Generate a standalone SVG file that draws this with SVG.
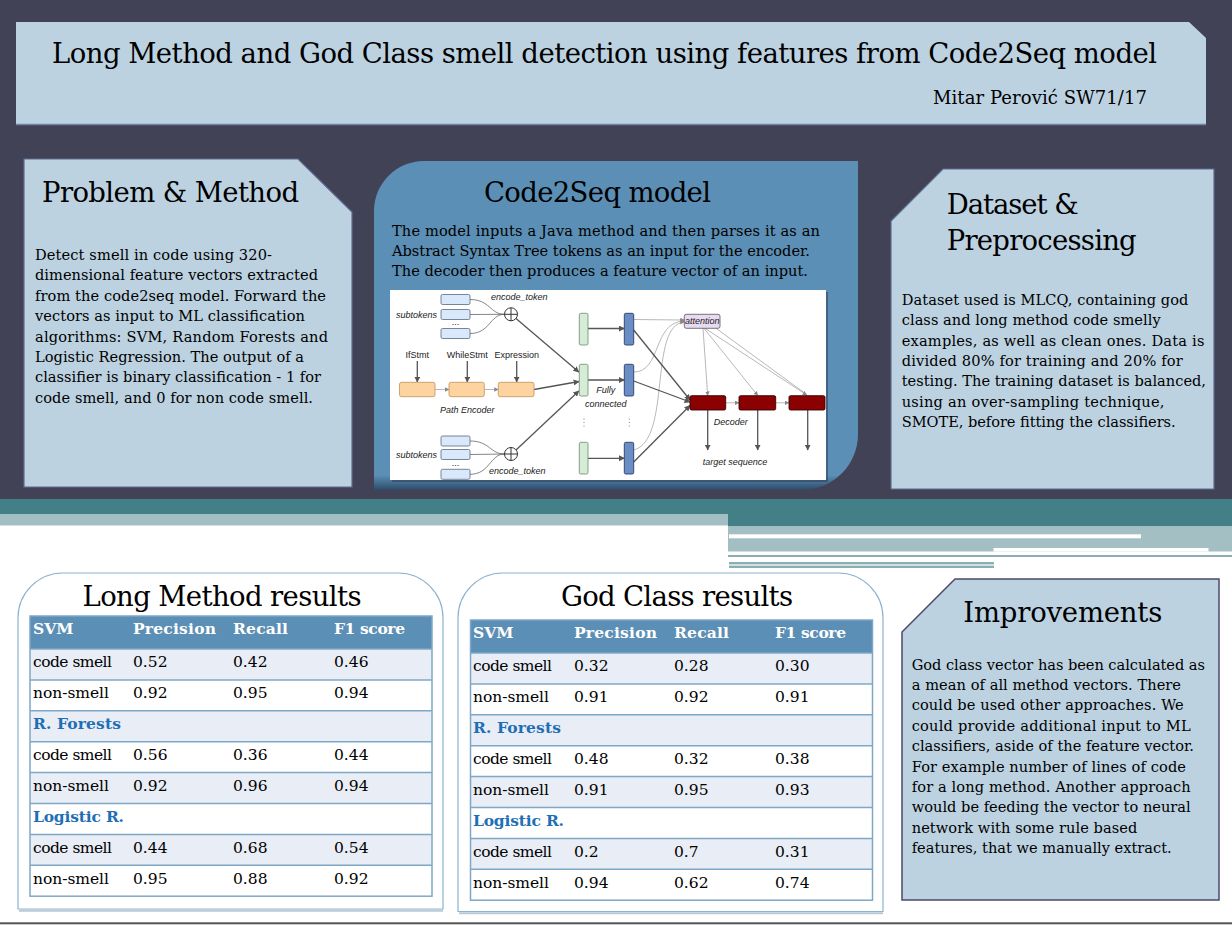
<svg xmlns="http://www.w3.org/2000/svg" width="1232" height="925" viewBox="0 0 1232 925">
<style>
.t{font-family:"DejaVu Serif","Liberation Serif",serif;fill:#000}
.h1{font-size:27.5px}
.h2{font-size:27.5px}
.au{font-size:18px}
.b{font-size:14.6px}
.th{font-size:15.5px;font-weight:bold;fill:#fff}
.td{font-size:15.5px}
.tb{font-size:15.5px;font-weight:bold;fill:#1f6fb6}
.f{font-family:"Liberation Sans",Arial,sans-serif;font-size:9px;fill:#222}
.fi{font-style:italic}
.panel{fill:#bcd2e1;stroke:#5f6b90;stroke-width:1.2}
.sub{fill:#d9e8fa;stroke:#59687e;stroke-width:0.8}
.org{fill:#fdd3a0;stroke:#c0905a;stroke-width:0.8}
.grn{fill:#d6ecd6;stroke:#6a8a6a;stroke-width:0.8}
.blu{fill:#6b8dc6;stroke:#2a3d66;stroke-width:0.9}
.dec{fill:#8b0000;stroke:#3a0000;stroke-width:0.9}
.cw{fill:none;stroke:#555;stroke-width:1.3}
.cg{fill:none;stroke:#9a9a9a;stroke-width:0.7}
.cc{fill:none;stroke:#666;stroke-width:0.8}
.row{fill:#e9edf5}
.sep{stroke:#7ea8c8;stroke-width:1.5}
.outer{fill:#fff;stroke:#8db3cf;stroke-width:1.2}
.hdr{fill:#5b8fb5}
</style>
<defs>
<marker id="ad" viewBox="0 0 10 10" refX="9" refY="5" markerWidth="6" markerHeight="6" markerUnits="userSpaceOnUse" orient="auto"><path d="M0,0 L10,5 L0,10 z" fill="#555"/></marker>
<marker id="ag" viewBox="0 0 10 10" refX="9" refY="5" markerWidth="4.5" markerHeight="4.5" markerUnits="userSpaceOnUse" orient="auto"><path d="M0,0 L10,5 L0,10 z" fill="#8a8a8a"/></marker>
<linearGradient id="cg" x1="0" y1="0" x2="0" y2="1">
<stop offset="0" stop-color="#5b8fb5"/><stop offset="0.955" stop-color="#5b8fb5"/><stop offset="1" stop-color="#2f4a68"/>
</linearGradient>
</defs>

<g id="background">
<rect x="0" y="0" width="1232" height="925" fill="#fff"/>
<rect x="0" y="0" width="1232" height="499" fill="#424257"/>
</g>

<g id="stripes">
<rect x="0" y="499" width="1232" height="15.5" fill="#437f87"/>
<rect x="728" y="514" width="504" height="12.5" fill="#437f87"/>
<rect x="0" y="514" width="728" height="11.5" fill="#a3bfc3"/>
<rect x="728" y="526.5" width="504" height="25" fill="#a3bfc3"/>
<rect x="729" y="534.3" width="412" height="4" fill="#fff"/>
<rect x="993.5" y="548" width="215" height="3.6" fill="#fff"/>
<rect x="728" y="555" width="504" height="2" fill="#8aaeb2"/>
<rect x="729" y="562" width="265" height="2.4" fill="#8aaeb2"/>
<rect x="729" y="565.6" width="265" height="2.4" fill="#8aaeb2"/>
<rect x="0" y="922.3" width="1232" height="2" fill="#555"/>
</g>

<g id="title">
<polygon points="16,22 1189,22 1206,38 1206,125 16,125" fill="#bcd2e1"/>
<line x1="16" y1="124.5" x2="1206" y2="124.5" stroke="#7282a6" stroke-width="1.5"/>
<text class="t h1" x="52" y="63" textLength="1105">Long Method and God Class smell detection using features from Code2Seq model</text>
<text class="t au" x="933" y="104" textLength="214">Mitar Perović SW71/17</text>
</g>

<g id="problem-method">
<polygon class="panel" points="24,159 298,159 352,212 352,487 24,487"/>
<text class="t h2" x="42" y="202" textLength="257">Problem &amp; Method</text>
<text class="t b" x="35" y="260" textLength="237">Detect smell in code using 320-</text>
<text class="t b" x="35" y="280.4" textLength="283">dimensional feature vectors extracted</text>
<text class="t b" x="35" y="300.8" textLength="291">from the code2seq model. Forward the</text>
<text class="t b" x="35" y="321.2" textLength="270">vectors as input to ML classification</text>
<text class="t b" x="35" y="341.6" textLength="293">algorithms: SVM, Random Forests and</text>
<text class="t b" x="35" y="362" textLength="269">Logistic Regression. The output of a</text>
<text class="t b" x="35" y="382.4" textLength="286">classifier is binary classification - 1 for</text>
<text class="t b" x="35" y="402.8" textLength="278">code smell, and 0 for non code smell.</text>
</g>

<g id="code2seq">
<path d="M374,490 L374,211 A50,50 0 0 1 424,161 L858,161 L858,434 A56,56 0 0 1 802,490 Z" fill="url(#cg)"/>
<text class="t h2" x="484" y="202" textLength="227">Code2Seq model</text>
<text class="t b" x="392" y="236" textLength="428">The model inputs a Java method and then parses it as an</text>
<text class="t b" x="392" y="256" textLength="418">Abstract Syntax Tree tokens as an input for the encoder.</text>
<text class="t b" x="392" y="276" textLength="416">The decoder then produces a feature vector of an input.</text>
<rect x="392" y="292" width="436" height="190" fill="#2b3f55" opacity="0.55"/>
<rect x="390" y="290" width="436" height="190" fill="#fff"/>
</g>

<g id="fig-connectors">
<path class="cc" d="M470,299.5 C490,299.5 490,314.3 504.5,314.3"/>
<path class="cc" d="M470,314.5 L504.5,314.3"/>
<path class="cc" d="M470,333.5 C490,333.5 490,314.3 504.5,314.3"/>
<path class="cc" d="M470,441 C490,441 490,454 504.5,454"/>
<path class="cc" d="M470,454.5 L504.5,454"/>
<path class="cc" d="M470,474.3 C490,474.3 490,454 504.5,454"/>
<line class="cg" x1="435" y1="389.5" x2="449" y2="389.5" marker-end="url(#ag)"/>
<line class="cg" x1="484.3" y1="389.5" x2="498.3" y2="389.5" marker-end="url(#ag)"/>
<line class="cw" x1="417.3" y1="361" x2="417.3" y2="382" marker-end="url(#ad)"/>
<line class="cw" x1="467.3" y1="361" x2="467.3" y2="382" marker-end="url(#ad)"/>
<line class="cw" x1="516.7" y1="361" x2="516.7" y2="382" marker-end="url(#ad)"/>
<line class="cw" x1="534" y1="389.5" x2="579" y2="381.5" marker-end="url(#ad)"/>
<line class="cw" x1="516" y1="318.5" x2="578.8" y2="372" marker-end="url(#ad)"/>
<line class="cw" x1="516" y1="450" x2="578.8" y2="391" marker-end="url(#ad)"/>
<line class="cw" x1="588" y1="328.5" x2="624.3" y2="328.5" marker-end="url(#ad)"/>
<line class="cw" x1="588" y1="380" x2="624.3" y2="380" marker-end="url(#ad)"/>
<line class="cw" x1="588" y1="458.3" x2="624.3" y2="458.3" marker-end="url(#ad)"/>
<line class="cg" x1="633.7" y1="319.5" x2="684.3" y2="320" marker-end="url(#ag)"/>
<path class="cg" d="M633.7,372 C662,372 652,322 684.3,321" marker-end="url(#ag)"/>
<path class="cg" d="M633.7,450 C672,440 648,325 684.3,322" marker-end="url(#ag)"/>
<line class="cw" x1="633.7" y1="330" x2="690" y2="400" marker-end="url(#ad)"/>
<line class="cw" x1="633.7" y1="381" x2="690" y2="402" marker-end="url(#ad)"/>
<line class="cw" x1="633.7" y1="462" x2="690" y2="405.5" marker-end="url(#ad)"/>
<line class="cg" x1="703" y1="328.3" x2="707.7" y2="395.5" marker-end="url(#ag)"/>
<line class="cg" x1="704" y1="328.3" x2="757.7" y2="395.5" marker-end="url(#ag)"/>
<line class="cg" x1="705" y1="328.3" x2="806.7" y2="395" marker-end="url(#ag)"/>
<line class="cg" x1="716" y1="328.3" x2="806.7" y2="394.5"/>
<line class="cg" x1="725.7" y1="402.8" x2="739" y2="402.8" marker-end="url(#ag)"/>
<line class="cg" x1="775.7" y1="402.8" x2="789" y2="402.8" marker-end="url(#ag)"/>
<line class="cw" x1="707.7" y1="410" x2="707.7" y2="450" marker-end="url(#ad)"/>
<line class="cw" x1="757.7" y1="410" x2="757.7" y2="450" marker-end="url(#ad)"/>
<line class="cw" x1="807.7" y1="410" x2="807.7" y2="450" marker-end="url(#ad)"/>
</g>

<g id="fig-subtokens-top">
<rect class="sub" x="441" y="294.5" width="29" height="10" rx="1.5"/>
<rect class="sub" x="441" y="309.5" width="29" height="10" rx="1.5"/>
<rect class="sub" x="441" y="328.5" width="29" height="10" rx="1.5"/>
<text class="f" x="455.5" y="325" text-anchor="middle">...</text>
<text class="f fi" x="437" y="318.3" text-anchor="end">subtokens</text>
<text class="f fi" x="491" y="300">encode_token</text>
<circle cx="511" cy="314.3" r="6.5" fill="#fff" stroke="#333" stroke-width="1"/>
<path d="M504.5,314.3 H517.5 M511,307.8 V320.8" stroke="#333" stroke-width="1"/>
</g>
<g id="fig-subtokens-bottom">
<rect class="sub" x="441" y="436" width="29" height="10" rx="1.5"/>
<rect class="sub" x="441" y="449.5" width="29" height="10" rx="1.5"/>
<rect class="sub" x="441" y="469.3" width="29" height="10" rx="1.5"/>
<text class="f" x="455.5" y="465.5" text-anchor="middle">...</text>
<text class="f fi" x="437" y="458.3" text-anchor="end">subtokens</text>
<text class="f fi" x="489" y="473.5">encode_token</text>
<circle cx="511" cy="454" r="6.5" fill="#fff" stroke="#333" stroke-width="1"/>
<path d="M504.5,454 H517.5 M511,447.5 V460.5" stroke="#333" stroke-width="1"/>
</g>
<g id="fig-path-encoder">
<text class="f" x="417.3" y="357.7" text-anchor="middle">IfStmt</text>
<text class="f" x="467.3" y="357.7" text-anchor="middle">WhileStmt</text>
<text class="f" x="516.7" y="357.7" text-anchor="middle">Expression</text>
<rect class="org" x="399.5" y="382.3" width="35.5" height="14.4" rx="2"/>
<rect class="org" x="449" y="382.3" width="35.3" height="14.4" rx="2"/>
<rect class="org" x="498.3" y="382.3" width="35.7" height="14.4" rx="2"/>
<text class="f fi" x="467.3" y="413.3" text-anchor="middle">Path Encoder</text>
</g>
<g id="fig-fully-connected">
<rect class="grn" x="579.3" y="313.3" width="8.7" height="31.7" rx="1.5"/>
<rect class="grn" x="579.3" y="364.3" width="8.7" height="31.7" rx="1.5"/>
<rect class="grn" x="579.3" y="442.3" width="8.7" height="31.7" rx="1.5"/>
<rect class="blu" x="624.3" y="313.3" width="9.4" height="31.7" rx="1.5"/>
<rect class="blu" x="624.3" y="364.3" width="9.4" height="31.7" rx="1.5"/>
<rect class="blu" x="624.3" y="442.3" width="9.4" height="31.7" rx="1.5"/>
<g fill="#777"><circle cx="584" cy="419" r="0.6"/><circle cx="584" cy="422.5" r="0.6"/><circle cx="584" cy="426" r="0.6"/><circle cx="629.3" cy="419" r="0.6"/><circle cx="629.3" cy="422.5" r="0.6"/><circle cx="629.3" cy="426" r="0.6"/></g>
<text class="f fi" x="605.7" y="393.3" text-anchor="middle">Fully</text>
<text class="f fi" x="605.7" y="406.7" text-anchor="middle">connected</text>
</g>
<g id="fig-attention">
<rect x="684.3" y="314.3" width="35.7" height="14" rx="2" fill="#e8daf2" stroke="#555" stroke-width="0.8"/>
<text class="f fi" x="702.3" y="324.3" text-anchor="middle">attention</text>
</g>
<g id="fig-decoder">
<rect class="dec" x="690" y="395.7" width="35.7" height="14.3" rx="1.5"/>
<rect class="dec" x="739" y="395.7" width="36.7" height="14.3" rx="1.5"/>
<rect class="dec" x="789" y="395.7" width="36" height="14.3" rx="1.5"/>
<text class="f fi" x="730.7" y="425" text-anchor="middle">Decoder</text>
<text class="f fi" x="735" y="465" text-anchor="middle">target sequence</text>
</g>

<g id="dataset">
<polygon class="panel" points="943,169 1214,169 1214,489 891,489 891,221"/>
<text class="t h2" x="946.7" y="214" textLength="132">Dataset &amp;</text>
<text class="t h2" x="946.7" y="250" textLength="190">Preprocessing</text>
<text class="t b" x="901.7" y="305" textLength="286.7">Dataset used is MLCQ, containing god</text>
<text class="t b" x="901.7" y="325.3" textLength="259">class and long method code smelly</text>
<text class="t b" x="901.7" y="345.6" textLength="302.7">examples, as well as clean ones. Data is</text>
<text class="t b" x="901.7" y="366" textLength="281">divided 80% for training and 20% for</text>
<text class="t b" x="901.7" y="386.3" textLength="304.3">testing. The training dataset is balanced,</text>
<text class="t b" x="901.7" y="406.6" textLength="262.7">using an over-sampling technique,</text>
<text class="t b" x="901.7" y="427" textLength="274">SMOTE, before fitting the classifiers.</text>
</g>

<g id="long-method-results">
<line x1="19" y1="910.8" x2="443" y2="910.8" stroke="#b8cad8" stroke-width="2"/>
<path class="outer" d="M18,909 L18,618 A45,45 0 0 1 63,573 L398,573 A45,45 0 0 1 443,618 L443,909 Z"/>
<text class="t h2" x="222" y="606" text-anchor="middle" textLength="279">Long Method results</text>
<rect class="hdr" x="30" y="616" width="402" height="33"/>
<rect class="row" x="30" y="649" width="402" height="30.9"/>
<rect class="row" x="30" y="710.8" width="402" height="30.9"/>
<rect class="row" x="30" y="772.6" width="402" height="30.9"/>
<rect class="row" x="30" y="834.4" width="402" height="30.9"/>
<g class="sep">
<line x1="30" y1="649" x2="432" y2="649"/><line x1="30" y1="679.9" x2="432" y2="679.9"/>
<line x1="30" y1="710.8" x2="432" y2="710.8"/><line x1="30" y1="741.7" x2="432" y2="741.7"/>
<line x1="30" y1="772.6" x2="432" y2="772.6"/><line x1="30" y1="803.5" x2="432" y2="803.5"/>
<line x1="30" y1="834.4" x2="432" y2="834.4"/><line x1="30" y1="865.3" x2="432" y2="865.3"/>
</g>
<rect x="30" y="616" width="402" height="280.2" fill="none" stroke="#7ea8c8" stroke-width="1.5"/>
<text class="t th" x="33" y="634">SVM</text><text class="t th" x="133" y="634" textLength="83">Precision</text><text class="t th" x="233" y="634" textLength="55">Recall</text><text class="t th" x="334" y="634" textLength="71">F1 score</text>
<text class="t td" x="33" y="667.3" textLength="79">code smell</text><text class="t td" x="133" y="667.3">0.52</text><text class="t td" x="233" y="667.3">0.42</text><text class="t td" x="334" y="667.3">0.46</text>
<text class="t td" x="33" y="698.2" textLength="76">non-smell</text><text class="t td" x="133" y="698.2">0.92</text><text class="t td" x="233" y="698.2">0.95</text><text class="t td" x="334" y="698.2">0.94</text>
<text class="t tb" x="33" y="729.1" textLength="88">R. Forests</text>
<text class="t td" x="33" y="760" textLength="79">code smell</text><text class="t td" x="133" y="760">0.56</text><text class="t td" x="233" y="760">0.36</text><text class="t td" x="334" y="760">0.44</text>
<text class="t td" x="33" y="790.9" textLength="76">non-smell</text><text class="t td" x="133" y="790.9">0.92</text><text class="t td" x="233" y="790.9">0.96</text><text class="t td" x="334" y="790.9">0.94</text>
<text class="t tb" x="33" y="821.8" textLength="91">Logistic R.</text>
<text class="t td" x="33" y="852.7" textLength="79">code smell</text><text class="t td" x="133" y="852.7">0.44</text><text class="t td" x="233" y="852.7">0.68</text><text class="t td" x="334" y="852.7">0.54</text>
<text class="t td" x="33" y="883.6" textLength="76">non-smell</text><text class="t td" x="133" y="883.6">0.95</text><text class="t td" x="233" y="883.6">0.88</text><text class="t td" x="334" y="883.6">0.92</text>
</g>

<g id="god-class-results">
<line x1="459" y1="913.3" x2="883" y2="913.3" stroke="#b8cad8" stroke-width="2"/>
<path class="outer" d="M458,911.5 L458,618 A45,45 0 0 1 503,573 L838,573 A45,45 0 0 1 883,618 L883,911.5 Z"/>
<text class="t h2" x="677" y="606" text-anchor="middle" textLength="232">God Class results</text>
<rect class="hdr" x="470.5" y="620" width="402" height="33"/>
<rect class="row" x="470.5" y="653" width="402" height="30.9"/>
<rect class="row" x="470.5" y="714.8" width="402" height="30.9"/>
<rect class="row" x="470.5" y="776.6" width="402" height="30.9"/>
<rect class="row" x="470.5" y="838.4" width="402" height="30.9"/>
<g class="sep">
<line x1="470.5" y1="653" x2="872.5" y2="653"/><line x1="470.5" y1="683.9" x2="872.5" y2="683.9"/>
<line x1="470.5" y1="714.8" x2="872.5" y2="714.8"/><line x1="470.5" y1="745.7" x2="872.5" y2="745.7"/>
<line x1="470.5" y1="776.6" x2="872.5" y2="776.6"/><line x1="470.5" y1="807.5" x2="872.5" y2="807.5"/>
<line x1="470.5" y1="838.4" x2="872.5" y2="838.4"/><line x1="470.5" y1="869.3" x2="872.5" y2="869.3"/>
</g>
<rect x="470.5" y="620" width="402" height="280.2" fill="none" stroke="#7ea8c8" stroke-width="1.5"/>
<text class="t th" x="473" y="638.3">SVM</text><text class="t th" x="574" y="638.3" textLength="83">Precision</text><text class="t th" x="674" y="638.3" textLength="55">Recall</text><text class="t th" x="775" y="638.3" textLength="71">F1 score</text>
<text class="t td" x="473" y="671.3" textLength="79">code smell</text><text class="t td" x="574" y="671.3">0.32</text><text class="t td" x="674" y="671.3">0.28</text><text class="t td" x="775" y="671.3">0.30</text>
<text class="t td" x="473" y="702.2" textLength="76">non-smell</text><text class="t td" x="574" y="702.2">0.91</text><text class="t td" x="674" y="702.2">0.92</text><text class="t td" x="775" y="702.2">0.91</text>
<text class="t tb" x="473" y="733.1" textLength="88">R. Forests</text>
<text class="t td" x="473" y="764" textLength="79">code smell</text><text class="t td" x="574" y="764">0.48</text><text class="t td" x="674" y="764">0.32</text><text class="t td" x="775" y="764">0.38</text>
<text class="t td" x="473" y="794.9" textLength="76">non-smell</text><text class="t td" x="574" y="794.9">0.91</text><text class="t td" x="674" y="794.9">0.95</text><text class="t td" x="775" y="794.9">0.93</text>
<text class="t tb" x="473" y="825.8" textLength="91">Logistic R.</text>
<text class="t td" x="473" y="856.7" textLength="79">code smell</text><text class="t td" x="574" y="856.7">0.2</text><text class="t td" x="674" y="856.7">0.7</text><text class="t td" x="775" y="856.7">0.31</text>
<text class="t td" x="473" y="887.6" textLength="76">non-smell</text><text class="t td" x="574" y="887.6">0.94</text><text class="t td" x="674" y="887.6">0.62</text><text class="t td" x="775" y="887.6">0.74</text>
</g>

<g id="improvements">
<polygon points="955,579 1219,579 1219,900 902,900 902,632" fill="#bcd2e1" stroke="#4a4a6a" stroke-width="1.5"/>
<text class="t h2" x="963.3" y="621.7" textLength="199">Improvements</text>
<text class="t b" x="911.7" y="669.5" textLength="293.3">God class vector has been calculated as</text>
<text class="t b" x="911.7" y="689.9" textLength="269.3">a mean of all method vectors. There</text>
<text class="t b" x="911.7" y="710.3" textLength="272">could be used other approaches. We</text>
<text class="t b" x="911.7" y="730.7" textLength="279">could provide additional input to ML</text>
<text class="t b" x="911.7" y="751.1" textLength="282.3">classifiers, aside of the feature vector.</text>
<text class="t b" x="911.7" y="771.5" textLength="274.3">For example number of lines of code</text>
<text class="t b" x="911.7" y="791.9" textLength="279">for a long method. Another approach</text>
<text class="t b" x="911.7" y="812.3" textLength="279">would be feeding the vector to neural</text>
<text class="t b" x="911.7" y="832.7" textLength="225.6">network with some rule based</text>
<text class="t b" x="911.7" y="853.1" textLength="260">features, that we manually extract.</text>
</g>
</svg>
